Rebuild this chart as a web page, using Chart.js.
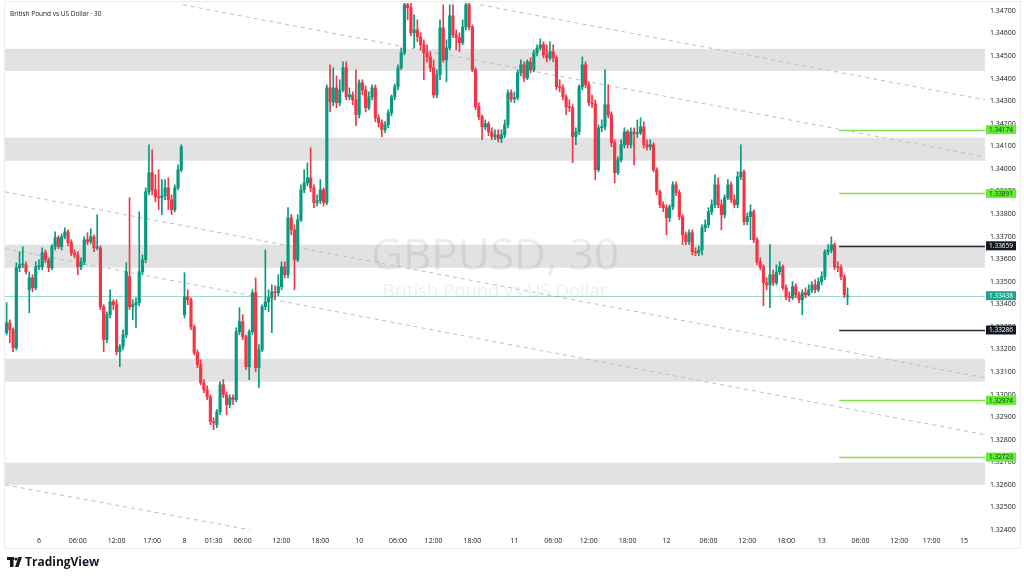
<!DOCTYPE html>
<html>
<head>
<meta charset="utf-8">
<title>GBPUSD 30</title>
<script src="https://cdn.jsdelivr.net/npm/chart.js@4.4.1/dist/chart.umd.min.js"></script>
<style>
  html, body { margin: 0; padding: 0; background: #fff; }
  canvas { display: block; }
</style>
</head>
<body>
<canvas id="gbpChart" width="1024" height="580"></canvas>
<script>
// 30 minute candles, GBPUSD
const slotCount = 303; // candles + empty space on the right

const tickIndex = [10, 22, 34, 45, 55, 64, 73, 85, 97, 109, 121, 132, 144, 157, 169, 180, 192, 204, 217, 229, 241, 252, 264, 276, 286, 296];
const tickText = ['6', '06:00', '12:00', '17:00', '8', '01:30', '06:00', '12:00', '18:00', '10', '06:00', '12:00', '18:00', '11', '06:00', '12:00', '18:00', '12', '06:00', '12:00', '18:00', '13', '06:00', '12:00', '17:00', '15'];

const opens = [
  1.33274,1.33318,1.33287,1.33207,1.33562,1.33575,1.33575,1.33464,1.33517,1.33473,
  1.33566,1.33566,1.33628,1.33597,1.33562,1.33655,1.33695,1.33655,1.33699,1.33721,
  1.33673,1.33628,1.33619,1.33566,1.33588,1.33686,1.33677,1.33699,1.33650,1.33650,
  1.33389,1.33243,1.33354,1.33411,1.33398,1.33190,1.33212,1.33265,1.33522,1.33389,
  1.33398,1.33407,1.33544,1.33597,1.33898,1.33983,1.33907,1.33876,1.33872,1.33881,
  1.33916,1.33863,1.33819,1.33916,1.33996,1.33354,1.33433,1.33420,1.33300,1.33185,
  1.33132,1.33052,1.33021,1.32990,1.32880,1.32866,1.32924,1.33043,1.32999,1.32955,
  1.32986,1.32977,1.33278,1.33323,1.33256,1.33123,1.33278,1.33451,1.33119,1.33198,
  1.33389,1.33411,1.33429,1.33455,1.33451,1.33478,1.33566,1.33531,1.33783,1.33730,
  1.33597,1.33774,1.33907,1.33938,1.33960,1.33916,1.33850,1.33859,1.33907,1.33850,
  1.34359,1.34297,1.34359,1.34293,1.34350,1.34448,1.34319,1.34328,1.34306,1.34240,
  1.34381,1.34350,1.34271,1.34319,1.34359,1.34226,1.34204,1.34173,1.34195,1.34248,
  1.34319,1.34364,1.34448,1.34514,1.34727,1.34714,1.34603,1.34616,1.34585,1.34550,
  1.34514,1.34496,1.34448,1.34328,1.34417,1.34625,1.34483,1.34536,1.34678,1.34594,
  1.34581,1.34559,1.34629,1.34727,1.34629,1.34439,1.34275,1.34231,1.34186,1.34200,
  1.34164,1.34142,1.34151,1.34133,1.34151,1.34195,1.34337,1.34310,1.34315,1.34426,
  1.34461,1.34403,1.34474,1.34439,1.34514,1.34536,1.34550,1.34505,1.34492,1.34519,
  1.34492,1.34364,1.34359,1.34319,1.34275,1.34271,1.34142,1.34164,1.34364,1.34461,
  1.34372,1.34293,1.34288,1.33996,1.34182,1.34186,1.34284,1.34240,1.34116,1.33983,
  1.34040,1.34107,1.34164,1.34107,1.34164,1.34155,1.34160,1.34186,1.34107,1.34098,
  1.34107,1.33996,1.33898,1.33841,1.33828,1.33783,1.33832,1.33929,1.33894,1.33788,
  1.33708,1.33677,1.33717,1.33633,1.33628,1.33641,1.33739,1.33752,1.33810,1.33841,
  1.33929,1.33841,1.33797,1.33872,1.33929,1.33863,1.33841,1.33965,1.33987,1.33766,
  1.33788,1.33810,1.33686,1.33588,1.33566,1.33495,1.33486,1.33531,1.33495,1.33544,
  1.33566,1.33473,1.33433,1.33429,1.33478,1.33442,1.33420,1.33451,
  1.33442,1.33464,1.33486,1.33464,1.33500,1.33522,1.33633,1.33641,1.33664,1.33566,1.33562,1.33522,1.33433
];
const highs = [
  1.33407,1.33331,1.33296,1.33584,1.33633,1.33655,1.33588,1.33544,1.33531,1.33588,
  1.33597,1.33650,1.33641,1.33606,1.33664,1.33721,1.33704,1.33712,1.33739,1.33730,
  1.33686,1.33641,1.33633,1.33606,1.33699,1.33717,1.33735,1.33708,1.33797,1.33659,
  1.33398,1.33367,1.33464,1.33420,1.33420,1.33221,1.33287,1.33584,1.33872,1.33420,
  1.33429,1.33810,1.33619,1.33916,1.34107,1.34084,1.33974,1.33996,1.33952,1.33952,
  1.33960,1.33885,1.33929,1.34018,1.34107,1.33540,1.33464,1.33429,1.33309,1.33198,
  1.33154,1.33066,1.33039,1.32999,1.32897,1.32933,1.33057,1.33066,1.33012,1.32999,
  1.32999,1.33296,1.33385,1.33354,1.33265,1.33287,1.33464,1.33517,1.33221,1.33398,
  1.33641,1.33464,1.33486,1.33482,1.33531,1.33588,1.33588,1.33828,1.33797,1.33752,
  1.33797,1.33929,1.33996,1.34027,1.34093,1.33929,1.33885,1.33952,1.33916,1.34372,
  1.34461,1.34448,1.34412,1.34395,1.34474,1.34474,1.34359,1.34341,1.34439,1.34395,
  1.34395,1.34368,1.34341,1.34372,1.34372,1.34240,1.34217,1.34209,1.34262,1.34328,
  1.34377,1.34461,1.34536,1.34736,1.34736,1.34736,1.34683,1.34660,1.34603,1.34572,
  1.34550,1.34519,1.34483,1.34439,1.34660,1.34727,1.34572,1.34727,1.34727,1.34616,
  1.34603,1.34660,1.34736,1.34736,1.34638,1.34448,1.34293,1.34240,1.34217,1.34209,
  1.34182,1.34173,1.34173,1.34173,1.34217,1.34350,1.34350,1.34341,1.34439,1.34483,
  1.34474,1.34483,1.34492,1.34527,1.34550,1.34576,1.34563,1.34550,1.34563,1.34550,
  1.34501,1.34395,1.34372,1.34328,1.34306,1.34284,1.34182,1.34372,1.34496,1.34474,
  1.34386,1.34328,1.34306,1.34195,1.34217,1.34439,1.34372,1.34253,1.34129,1.34053,
  1.34129,1.34182,1.34173,1.34182,1.34182,1.34217,1.34226,1.34209,1.34129,1.34129,
  1.34116,1.34005,1.33907,1.33854,1.33841,1.33841,1.33943,1.33943,1.33907,1.33797,
  1.33721,1.33730,1.33730,1.33650,1.33659,1.33752,1.33774,1.33828,1.33863,1.33974,
  1.33960,1.33863,1.33885,1.33952,1.33943,1.33885,1.33987,1.34107,1.33996,1.33805,
  1.33841,1.33819,1.33695,1.33606,1.33575,1.33517,1.33664,1.33553,1.33575,1.33588,
  1.33575,1.33486,1.33455,1.33500,1.33491,1.33455,1.33464,1.33473,
  1.33486,1.33500,1.33509,1.33517,1.33544,1.33641,1.33664,1.33699,1.33673,1.33588,1.33575,1.33531,1.33473
];
const lows = [
  1.33265,1.33230,1.33190,1.33198,1.33544,1.33562,1.33535,1.33362,1.33455,1.33464,
  1.33553,1.33553,1.33584,1.33544,1.33553,1.33641,1.33646,1.33641,1.33690,1.33659,
  1.33615,1.33606,1.33531,1.33553,1.33575,1.33664,1.33668,1.33633,1.33641,1.33376,
  1.33190,1.33230,1.33340,1.33376,1.33176,1.33123,1.33198,1.33252,1.33376,1.33331,
  1.33296,1.33393,1.33531,1.33584,1.33885,1.33885,1.33854,1.33819,1.33797,1.33863,
  1.33819,1.33797,1.33810,1.33907,1.33987,1.33340,1.33398,1.33287,1.33176,1.33119,
  1.33043,1.33008,1.32977,1.32866,1.32844,1.32853,1.32911,1.32986,1.32911,1.32942,
  1.32955,1.32968,1.33265,1.33243,1.33110,1.33066,1.33265,1.33101,1.33030,1.33190,
  1.33376,1.33367,1.33274,1.33420,1.33438,1.33464,1.33517,1.33517,1.33708,1.33464,
  1.33588,1.33766,1.33894,1.33925,1.33898,1.33828,1.33836,1.33845,1.33836,1.33841,
  1.34253,1.34279,1.34271,1.34279,1.34341,1.34306,1.34306,1.34284,1.34191,1.34226,
  1.34328,1.34253,1.34262,1.34306,1.34209,1.34186,1.34142,1.34160,1.34182,1.34235,
  1.34306,1.34350,1.34439,1.34505,1.34660,1.34590,1.34536,1.34563,1.34527,1.34395,
  1.34474,1.34430,1.34315,1.34315,1.34395,1.34474,1.34386,1.34527,1.34581,1.34527,
  1.34519,1.34550,1.34616,1.34616,1.34430,1.34262,1.34217,1.34129,1.34173,1.34147,
  1.34129,1.34129,1.34120,1.34116,1.34138,1.34182,1.34297,1.34293,1.34306,1.34412,
  1.34386,1.34395,1.34426,1.34430,1.34501,1.34527,1.34492,1.34474,1.34483,1.34474,
  1.34350,1.34341,1.34306,1.34240,1.34253,1.34027,1.34107,1.34151,1.34350,1.34359,
  1.34279,1.34271,1.33952,1.33987,1.34164,1.34173,1.34226,1.34098,1.33938,1.33974,
  1.34031,1.34093,1.34093,1.34093,1.34018,1.34138,1.34151,1.34093,1.34084,1.34084,
  1.33987,1.33885,1.33828,1.33810,1.33708,1.33766,1.33819,1.33881,1.33774,1.33664,
  1.33664,1.33664,1.33619,1.33615,1.33615,1.33619,1.33721,1.33739,1.33797,1.33828,
  1.33828,1.33730,1.33783,1.33863,1.33850,1.33828,1.33828,1.33952,1.33752,1.33752,
  1.33686,1.33673,1.33575,1.33553,1.33393,1.33464,1.33385,1.33482,1.33486,1.33531,
  1.33464,1.33420,1.33411,1.33420,1.33429,1.33407,1.33354,1.33429,
  1.33438,1.33451,1.33451,1.33455,1.33486,1.33509,1.33619,1.33628,1.33553,1.33544,1.33509,1.33429,1.33398
];
const closes = [
  1.33318,1.33287,1.33207,1.33562,1.33575,1.33579,1.33544,1.33517,1.33473,1.33566,
  1.33571,1.33628,1.33597,1.33562,1.33655,1.33695,1.33655,1.33699,1.33721,1.33673,
  1.33628,1.33619,1.33566,1.33588,1.33686,1.33677,1.33699,1.33650,1.33655,1.33389,
  1.33243,1.33354,1.33411,1.33398,1.33190,1.33212,1.33265,1.33544,1.33389,1.33398,
  1.33407,1.33544,1.33597,1.33898,1.33983,1.33907,1.33876,1.33872,1.33881,1.33916,
  1.33863,1.33819,1.33916,1.33996,1.34098,1.33433,1.33420,1.33300,1.33185,1.33132,
  1.33052,1.33021,1.32990,1.32880,1.32875,1.32924,1.33043,1.32999,1.32955,1.32986,
  1.32977,1.33278,1.33323,1.33256,1.33123,1.33278,1.33451,1.33119,1.33198,1.33389,
  1.33411,1.33429,1.33455,1.33451,1.33478,1.33566,1.33531,1.33783,1.33730,1.33597,
  1.33774,1.33907,1.33938,1.33960,1.33916,1.33850,1.33859,1.33907,1.33850,1.34359,
  1.34297,1.34359,1.34293,1.34350,1.34448,1.34319,1.34328,1.34306,1.34240,1.34381,
  1.34350,1.34271,1.34319,1.34359,1.34226,1.34204,1.34173,1.34195,1.34248,1.34319,
  1.34364,1.34448,1.34514,1.34727,1.34714,1.34603,1.34616,1.34585,1.34550,1.34514,
  1.34496,1.34448,1.34328,1.34417,1.34625,1.34483,1.34536,1.34678,1.34594,1.34581,
  1.34559,1.34629,1.34727,1.34629,1.34439,1.34275,1.34231,1.34186,1.34200,1.34164,
  1.34142,1.34151,1.34133,1.34151,1.34195,1.34337,1.34310,1.34315,1.34426,1.34461,
  1.34403,1.34474,1.34439,1.34514,1.34536,1.34550,1.34505,1.34492,1.34519,1.34492,
  1.34364,1.34359,1.34319,1.34275,1.34271,1.34142,1.34164,1.34364,1.34461,1.34372,
  1.34293,1.34288,1.33996,1.34182,1.34186,1.34284,1.34240,1.34116,1.33983,1.34040,
  1.34107,1.34164,1.34107,1.34164,1.34155,1.34160,1.34186,1.34107,1.34098,1.34107,
  1.33996,1.33898,1.33841,1.33828,1.33783,1.33832,1.33929,1.33894,1.33788,1.33708,
  1.33677,1.33717,1.33633,1.33628,1.33641,1.33739,1.33752,1.33810,1.33841,1.33929,
  1.33841,1.33797,1.33872,1.33929,1.33863,1.33841,1.33965,1.33987,1.33766,1.33788,
  1.33810,1.33686,1.33588,1.33566,1.33495,1.33486,1.33531,1.33495,1.33544,1.33566,
  1.33473,1.33433,1.33429,1.33478,1.33442,1.33420,1.33451,1.33442,
  1.33464,1.33486,1.33464,1.33500,1.33522,1.33633,1.33641,1.33664,1.33566,1.33562,1.33522,1.33442,1.33438
];

// grey supply / demand zones
const zoneTops = [1.34532, 1.34138, 1.33664, 1.33159, 1.32698];
const zoneBottoms = [1.34434, 1.34036, 1.33562, 1.33057, 1.32600];

// horizontal levels on the right
const levelPrices = [1.34174, 1.33891, 1.33659, 1.33286, 1.32974, 1.32723];
const levelKinds = ['green', 'green', 'black', 'black', 'green', 'green'];
const levelStart = 257.4;
const lastPrice = 1.33438;

// dashed trend lines (slot index, price)
const trendX1 = [146.4, 54.5, -0.5, -0.5, -0.5];
const trendY1 = [1.34727, 1.34727, 1.33898, 1.33646, 1.32600];
const trendX2 = [302.5, 302.5, 302.5, 302.5, 75.3];
const trendY2 = [1.34306, 1.34053, 1.33074, 1.32822, 1.32401];

const UP = '#089981';
const DOWN = '#f23645';
const FONT = '"Open Sans", "DejaVu Sans", sans-serif';

const candleColors = closes.map((c, i) => c >= opens[i] ? UP : DOWN);
const slotLabels = Array.from({ length: slotCount }, (_, i) => String(i));

const decor = {
  id: 'decor',
  beforeDatasetsDraw(chart) {
    const { ctx, chartArea: a, scales } = chart;
    const x = scales.x, y = scales.y;
    ctx.save();
    ctx.beginPath();
    ctx.rect(a.left, a.top, a.right - a.left, a.bottom - a.top);
    ctx.clip();
    // zones
    ctx.fillStyle = '#e2e2e2';
    zoneTops.forEach((t, i) => {
      const y1 = y.getPixelForValue(t), y2 = y.getPixelForValue(zoneBottoms[i]);
      ctx.fillRect(a.left, y1, a.right - a.left, y2 - y1);
    });
    // watermark
    ctx.fillStyle = 'rgba(0,0,0,0.07)';
    ctx.textAlign = 'center';
    ctx.textBaseline = 'middle';
    ctx.font = '44px ' + FONT;
    ctx.fillText('GBPUSD, 30', 495, 257);
    ctx.font = '18.5px ' + FONT;
    ctx.fillText('British Pound vs US Dollar', 495, 292);
    // dashed trend lines
    ctx.strokeStyle = '#bcbfc6';
    ctx.lineWidth = 1;
    ctx.setLineDash([4, 4]);
    trendX1.forEach((x1, i) => {
      ctx.beginPath();
      ctx.moveTo(x.getPixelForValue(x1), y.getPixelForValue(trendY1[i]));
      ctx.lineTo(x.getPixelForValue(trendX2[i]), y.getPixelForValue(trendY2[i]));
      ctx.stroke();
    });
    ctx.setLineDash([]);
    // current price line
    const yp = Math.round(y.getPixelForValue(lastPrice)) + 0.5;
    ctx.strokeStyle = 'rgba(34,171,148,0.45)';
    ctx.beginPath();
    ctx.moveTo(a.left, yp);
    ctx.lineTo(a.right, yp);
    ctx.stroke();
    // level lines
    const xs = x.getPixelForValue(levelStart);
    levelPrices.forEach((p, i) => {
      const yy = Math.round(y.getPixelForValue(p)) + 0.5;
      ctx.strokeStyle = levelKinds[i] === 'green' ? '#86dd4c' : '#2a2e39';
      ctx.lineWidth = levelKinds[i] === 'green' ? 1.3 : 1.5;
      ctx.beginPath();
      ctx.moveTo(xs, yy);
      ctx.lineTo(a.right, yy);
      ctx.stroke();
    });
    ctx.restore();
  },
  afterDraw(chart) {
    const { ctx, scales } = chart;
    const y = scales.y;
    ctx.save();
    // frame
    ctx.strokeStyle = '#ececec';
    ctx.lineWidth = 1;
    ctx.strokeRect(4.5, 1.5, 1016, 547);
    // title
    ctx.fillStyle = '#131722';
    ctx.font = '6.5px ' + FONT;
    ctx.textAlign = 'left';
    ctx.textBaseline = 'middle';
    ctx.fillText('British Pound vs US Dollar \u00b7 30', 10, 14);
    // price boxes
    ctx.textAlign = 'center';
    const box = (p, fill, txt) => {
      const yy = y.getPixelForValue(p);
      ctx.fillStyle = fill;
      ctx.fillRect(986, yy - 4.5, 30, 9);
      ctx.fillStyle = txt;
      ctx.font = '6.5px ' + FONT;
      ctx.fillText(p.toFixed(5), 1001, yy + 0.5);
    };
    levelPrices.forEach((p, i) => {
      if (levelKinds[i] === 'green') box(p, '#62ee35', '#10300a');
      else box(p, '#131722', '#ffffff');
    });
    box(lastPrice, '#22a38f', '#ffffff');
    // TradingView logo
    ctx.fillStyle = '#131722';
    ctx.fillRect(7, 557, 7, 3);
    ctx.fillRect(10, 557, 3.5, 10);
    ctx.beginPath();
    ctx.arc(16, 559, 1.6, 0, Math.PI * 2);
    ctx.fill();
    ctx.beginPath();
    ctx.moveTo(18.5, 557);
    ctx.lineTo(22, 557);
    ctx.lineTo(18.5, 567);
    ctx.lineTo(15, 567);
    ctx.closePath();
    ctx.fill();
    ctx.font = 'bold 12px ' + FONT;
    ctx.textAlign = 'left';
    ctx.fillText('TradingView', 25, 562.5);
    ctx.restore();
  }
};

new Chart(document.getElementById('gbpChart'), {
  type: 'bar',
  data: {
    labels: slotLabels,
    datasets: [
      {
        label: 'wick',
        data: lows.map((l, i) => [l, highs[i]]),
        backgroundColor: candleColors,
        barThickness: 1,
        grouped: false,
        order: 2
      },
      {
        label: 'body',
        data: opens.map((o, i) => [o, closes[i]]),
        backgroundColor: candleColors,
        barThickness: 2.5,
        minBarLength: 1,
        grouped: false,
        order: 1
      }
    ]
  },
  options: {
    responsive: false,
    animation: false,
    layout: { padding: { left: 5, top: 3, right: 0, bottom: 0 } },
    plugins: {
      legend: { display: false },
      tooltip: { enabled: false }
    },
    scales: {
      x: {
        type: 'category',
        offset: true,
        grid: { display: false, drawTicks: false },
        border: { display: false },
        ticks: {
          autoSkip: false,
          maxRotation: 0,
          padding: 3,
          color: '#131722',
          font: { size: 7, family: FONT },
          callback: (v, i) => {
            const k = tickIndex.indexOf(i);
            return k >= 0 ? tickText[k] : '';
          }
        },
        afterFit: (s) => { s.height = 46; s.paddingLeft = 0; s.paddingRight = 0; }
      },
      y: {
        type: 'linear',
        position: 'right',
        min: 1.32382,
        max: 1.34735,
        grid: { display: false, drawTicks: false },
        border: { display: false },
        ticks: {
          stepSize: 0.001,
          includeBounds: false,
          padding: 5,
          color: '#131722',
          font: { size: 7, family: FONT },
          callback: (v) => v.toFixed(5)
        },
        afterFit: (s) => { s.width = 39; s.paddingTop = 0; s.paddingBottom = 0; }
      }
    }
  },
  plugins: [decor]
});
</script>
</body>
</html>
